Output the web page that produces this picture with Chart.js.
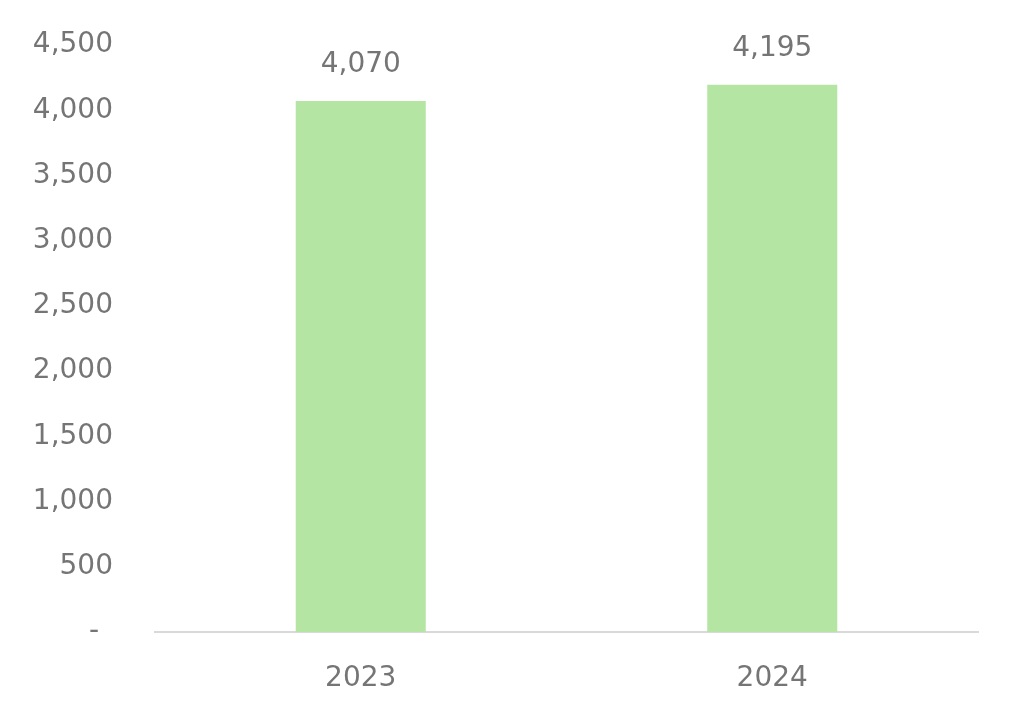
<!DOCTYPE html>
<html>
<head>
<meta charset="utf-8">
<script src="https://cdn.jsdelivr.net/npm/chart.js@4"></script>
<style>
  html, body { margin: 0; padding: 0; background: #fff; }
  #wrap { width: 1024px; height: 724px; }
</style>
</head>
<body>
<div id="wrap"><canvas id="chart" width="1024" height="724"></canvas></div>
<script>
// Chart data
const years = ['2023', '2024'];
const values = [4070, 4195];
const yTicks = [0, 500, 1000, 1500, 2000, 2500, 3000, 3500, 4000, 4500];

const textColor = '#757575';
const fontFamily = '"DejaVu Sans", sans-serif';

// Draw value labels above bars
const valueLabels = {
  id: 'valueLabels',
  afterDatasetsDraw(chart) {
    const ctx = chart.ctx;
    const meta = chart.getDatasetMeta(0);
    ctx.save();
    ctx.fillStyle = textColor;
    ctx.font = '28px ' + fontFamily;
    ctx.textAlign = 'center';
    ctx.textBaseline = 'bottom';
    meta.data.forEach((bar, i) => {
      ctx.fillText(values[i].toLocaleString('en-US'), bar.x, bar.y - 22);
    });
    ctx.restore();
  },
};

new Chart(document.getElementById('chart'), {
  type: 'bar',
  data: {
    labels: years,
    datasets: [{
      data: values,
      backgroundColor: '#b4e5a2',
      barPercentage: 0.316,
      categoryPercentage: 1,
    }],
  },
  options: {
    responsive: false,
    animation: false,
    layout: { padding: { top: 45, right: 46, left: 0, bottom: 0 } },
    plugins: { legend: { display: false }, tooltip: { enabled: false } },
    scales: {
      x: {
        grid: { display: false, drawTicks: false },
        border: { color: '#d9d9d9', width: 2 },
        ticks: { color: textColor, font: { size: 28, family: fontFamily }, padding: 30 },
        afterFit: (axis) => { axis.height = 92; axis.paddingLeft = 0; axis.paddingRight = 0; },
      },
      y: {
        min: 0,
        max: 4500,
        grid: { display: false, drawTicks: false },
        border: { display: false },
        afterBuildTicks: (axis) => { axis.ticks = yTicks.map((v) => ({ value: v })); },
        afterFit: (axis) => { axis.width = 155; axis.paddingTop = 0; axis.paddingBottom = 0; },
        ticks: {
          color: textColor,
          font: { size: 28, family: fontFamily },
          padding: 42,
          callback: (v) => (v === 0 ? '-\u2002' : v.toLocaleString('en-US')),
        },
      },
    },
  },
  plugins: [valueLabels],
});
</script>
</body>
</html>
